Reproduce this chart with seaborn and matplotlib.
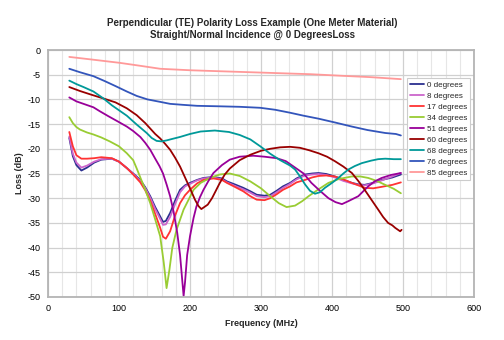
import numpy as np
import pandas as pd
import matplotlib
matplotlib.use("Agg")
import matplotlib.pyplot as plt
import seaborn as sns
from matplotlib.ticker import MultipleLocator

# ---------------- data ----------------
labels = ["0 degrees", "8 degrees", "17 degrees", "34 degrees", "51 degrees",
          "60 degrees", "68 degrees", "76 degrees", "85 degrees"]
colors = ["#2B2F8F", "#CC66CC", "#FF3333", "#99CC33", "#990099",
          "#990000", "#009999", "#3355BB", "#FF9999"]

freq_low = [30, 35, 40, 47, 55, 65, 75, 90, 100, 111, 120, 130, 137, 144, 151, 158, 162, 166,
            172, 179, 186, 193, 200, 210, 219, 233, 245, 252, 263, 275, 285, 294, 305, 313,
            322, 331, 341, 350, 362, 372, 381, 392, 404, 416, 428, 437, 446, 458, 470, 485, 497]
loss_0 = [-17.8, -21.5, -23.3, -24.4, -23.8, -22.8, -22.2, -22.0, -22.6, -23.9, -25.0, -26.3,
          -27.8, -29.6, -31.8, -33.7, -34.8, -34.6, -33.0, -30.5, -28.3, -27.4, -26.9, -26.3,
          -25.9, -25.7, -26.0, -26.6, -27.2, -27.9, -28.6, -29.3, -29.5, -29.3, -28.5, -27.6,
          -26.9, -26.0, -25.2, -25.0, -24.9, -25.1, -25.6, -26.3, -26.9, -27.2, -27.3, -26.9,
          -26.3, -25.8, -25.2]
loss_8 = [-17.5, -21.0, -22.8, -23.8, -23.4, -22.6, -22.1, -22.0, -22.6, -23.9, -25.1, -26.5,
          -28.0, -29.9, -32.2, -34.2, -35.4, -35.3, -33.8, -31.2, -28.8, -27.6, -27.1, -26.4,
          -26.0, -25.8, -26.2, -26.8, -27.5, -28.2, -28.9, -29.6, -29.8, -29.6, -28.8, -27.9,
          -27.1, -26.2, -25.4, -25.2, -25.1, -25.3, -25.8, -26.5, -27.0, -27.3, -27.4, -27.0,
          -26.4, -25.6, -24.9]
loss_17 = [-16.6, -19.5, -21.3, -22.0, -22.0, -21.9, -21.7, -21.9, -22.6, -23.9, -25.2, -26.8,
           -28.4, -30.5, -33.2, -36.0, -37.8, -38.2, -36.7, -33.5, -31.0, -29.4, -28.3, -27.0,
           -26.3, -26.0, -26.3, -26.9, -27.7, -28.6, -29.6, -30.3, -30.4, -30.0, -29.2, -28.3,
           -27.6, -26.8, -26.3, -25.8, -25.5, -25.4, -25.6, -26.2, -26.9, -27.4, -27.9, -28.0,
           -27.7, -27.3, -26.8]

freq_34 = [30, 35, 40, 45, 55, 64, 75, 87, 100, 111, 120, 125, 130, 137, 144, 151, 158, 163,
           167, 171, 175, 181, 191, 205, 215, 228, 242, 256, 270, 285, 300, 313, 325, 336, 348,
           358, 367, 380, 395, 410, 428, 440, 451, 463, 475, 487, 497]
loss_34 = [-13.6, -14.8, -15.6, -16.1, -16.7, -17.1, -17.7, -18.5, -19.5, -20.9, -22.3, -24.0,
           -25.8, -28.3, -31.0, -34.3, -37.7, -43.0, -48.2, -44.5, -40.1, -36.4, -32.3, -28.3,
           -26.9, -25.9, -25.2, -25.0, -25.5, -26.6, -28.0, -29.6, -31.0, -31.8, -31.5, -30.6,
           -29.6, -28.3, -26.9, -26.1, -25.6, -25.6, -25.9, -26.5, -27.3, -28.1, -29.0]

freq_51 = [30, 40, 50, 64, 73, 85, 100, 111, 120, 130, 137, 144, 151, 157, 162, 167, 172, 177,
           182, 186, 189, 191, 193, 196, 200, 205, 209, 214, 219, 226, 233, 245, 256, 270, 289,
           305, 322, 335, 348, 360, 371, 383, 395, 405, 414, 423, 437, 451, 460, 470, 483, 497]
loss_51 = [-9.6, -10.4, -10.9, -11.6, -12.4, -13.4, -14.6, -15.5, -16.4, -17.6, -18.8, -20.2,
           -22.0, -23.5, -25.0, -27.2, -29.6, -32.8, -37.0, -41.5, -46.5, -49.8, -47.0, -41.5,
           -37.7, -34.0, -31.7, -29.8, -28.3, -26.5, -24.9, -23.3, -22.2, -21.6, -21.4, -21.6,
           -21.9, -22.5, -23.8, -25.0, -26.9, -28.5, -30.0, -30.8, -31.2, -30.6, -29.6, -27.6,
           -26.6, -25.9, -25.3, -24.9]

freq_60 = [30, 45, 60, 80, 95, 111, 125, 137, 144, 151, 158, 165, 172, 179, 186, 193, 200, 207,
           212, 216, 220, 225, 231, 236, 242, 249, 256, 270, 285, 300, 313, 327, 341, 355, 368,
           381, 393, 404, 416, 428, 437, 446, 455, 465, 472, 479, 485, 489, 496, 498]
loss_60 = [-7.5, -8.3, -9.0, -9.9, -10.6, -11.8, -13.2, -14.8, -15.9, -17.0, -17.9, -19.0,
           -20.2, -21.8, -23.6, -25.8, -28.0, -30.3, -31.6, -32.2, -31.8, -31.3, -30.0, -28.6,
           -26.9, -25.2, -24.0, -22.3, -21.2, -20.4, -20.0, -19.7, -19.6, -19.8, -20.3, -20.9,
           -21.6, -22.5, -23.6, -24.9, -26.5, -28.3, -30.2, -32.3, -33.8, -35.0, -35.5, -36.0,
           -36.7, -36.4]

freq_68 = [30, 40, 50, 64, 78, 90, 100, 111, 125, 139, 146, 153, 160, 167, 175, 186, 200, 215,
           235, 255, 270, 285, 299, 313, 327, 341, 348, 355, 362, 369, 376, 383, 390, 400, 409,
           416, 423, 432, 442, 455, 465, 475, 487, 497]
loss_68 = [-6.2, -6.9, -7.5, -8.4, -9.8, -11.2, -12.2, -13.3, -15.1, -16.8, -17.8, -18.4, -18.5,
           -18.3, -18.0, -17.6, -17.0, -16.5, -16.3, -16.6, -17.2, -18.1, -19.5, -21.0, -22.3,
           -23.4, -24.2, -25.6, -27.2, -28.5, -29.1, -28.8, -27.9, -26.9, -25.9, -25.0, -24.2,
           -23.5, -22.9, -22.4, -22.1, -22.0, -22.1, -22.1]

freq_76 = [30, 45, 64, 80, 95, 111, 125, 140, 158, 172, 190, 210, 242, 270, 299, 320, 341, 360,
           381, 405, 428, 450, 475, 490, 497]
loss_76 = [-3.8, -4.5, -5.3, -6.3, -7.3, -8.4, -9.3, -10.0, -10.5, -10.9, -11.1, -11.3, -11.4,
           -11.5, -11.7, -12.1, -12.7, -13.3, -13.9, -14.7, -15.5, -16.2, -16.8, -17.0, -17.3]

freq_85 = [30, 60, 101, 130, 158, 200, 242, 285, 327, 370, 411, 455, 497]
loss_85 = [-1.4, -1.9, -2.6, -3.2, -3.8, -4.1, -4.3, -4.5, -4.7, -4.9, -5.2, -5.5, -5.9]

x_ticks = [0, 100, 200, 300, 400, 500, 600]
y_ticks = [0, -5, -10, -15, -20, -25, -30, -35, -40, -45, -50]

series = [(freq_low, loss_0), (freq_low, loss_8), (freq_low, loss_17), (freq_34, loss_34),
          (freq_51, loss_51), (freq_60, loss_60), (freq_68, loss_68), (freq_76, loss_76),
          (freq_85, loss_85)]

frames = []
for lab, (f, l) in zip(labels, series):
    frames.append(pd.DataFrame({"Frequency": f, "Loss": l, "Angle": lab}))
df = pd.concat(frames, ignore_index=True)

# ---------------- figure ----------------
sns.set_theme(style="white")
plt.rcParams["font.family"] = ["Liberation Sans", "DejaVu Sans"]

fig = plt.figure(figsize=(5.04, 3.40), dpi=100)
ax = fig.add_axes([48 / 504, 1 - 297 / 340, 426 / 504, 247 / 340])

sns.lineplot(data=df, x="Frequency", y="Loss", hue="Angle", hue_order=labels,
             palette=dict(zip(labels, colors)), estimator=None, sort=False,
             linewidth=1.3, ax=ax, legend=True)

ax.set_xlim(0, 600)
ax.set_ylim(-50, 0)
ax.set_xticks(x_ticks)
ax.set_yticks(y_ticks)
ax.set_xticklabels([str(v) for v in x_ticks], fontsize=6.5)
ax.set_yticklabels([str(v) for v in y_ticks], fontsize=6.5)
ax.xaxis.set_minor_locator(MultipleLocator(20))
ax.tick_params(axis="both", which="both", length=0, pad=5, colors="black")
ax.grid(True, which="major", axis="both", color="#d0d0d0", linewidth=0.9)
ax.grid(True, which="minor", axis="x", color="#e6e6e6", linewidth=0.8)
ax.set_axisbelow(True)
for s in ax.spines.values():
    s.set_color("#b4b4b4")
    s.set_linewidth(1.3)

ax.set_xlabel("Frequency (MHz)", fontsize=6.5, fontweight="bold", labelpad=4)
ax.set_ylabel("Loss (dB)", fontsize=6.5, fontweight="bold", labelpad=3)

fig.text(0.5, 1 - 23 / 340, "Perpendicular (TE) Polarity Loss Example (One Meter Material)",
         ha="center", va="center", fontsize=7, fontweight="bold")
fig.text(0.5, 1 - 35 / 340, "Straight/Normal Incidence @ 0 DegreesLoss",
         ha="center", va="center", fontsize=7, fontweight="bold")

handles, labs = ax.get_legend_handles_labels()
leg = ax.legend(handles, labs, loc="upper left",
                bbox_to_anchor=((407 - 48) / 426, (297 - 78) / 247),
                fontsize=5.8, frameon=True, fancybox=False, framealpha=1,
                edgecolor="#cccccc", handlelength=1.7, handletextpad=0.35,
                labelspacing=0.42, borderpad=0.4, borderaxespad=0)
leg.get_frame().set_linewidth(0.8)

fig.savefig("out.png", dpi=100, facecolor="white")
